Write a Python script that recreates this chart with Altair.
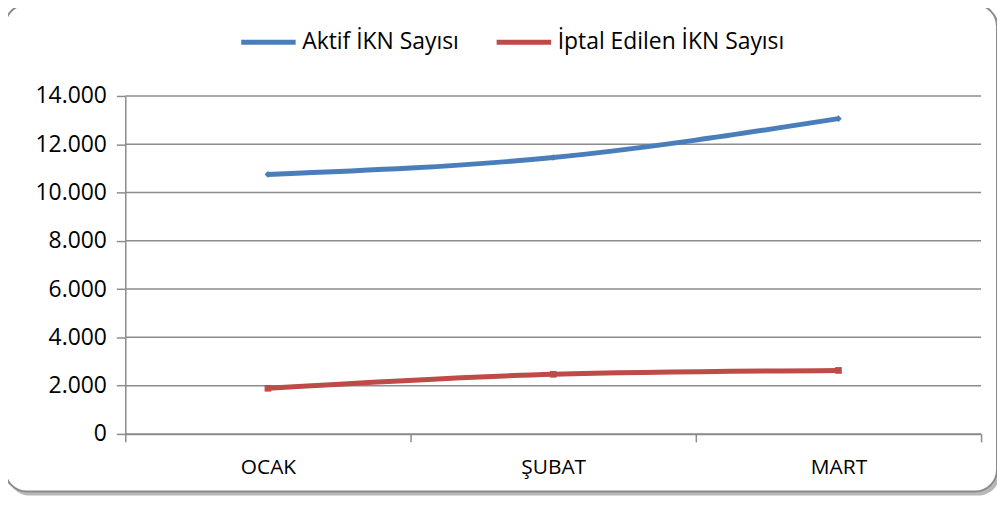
import altair as alt
import pandas as pd

months = ["OCAK", "ŞUBAT", "MART"]
aktif = [10750, 11450, 13060]
iptal = [1890, 2470, 2630]
series_names = ["Aktif İKN Sayısı", "İptal Edilen İKN Sayısı"]
colors = ["#4A7EBB", "#BE4B48"]
shapes = ["diamond", "square"]
y_ticks = [0, 2000, 4000, 6000, 8000, 10000, 12000, 14000]

rows = []
for name, vals in zip(series_names, [aktif, iptal]):
    for m, v in zip(months, vals):
        rows.append({"Ay": m, "Seri": name, "Değer": v})
df = pd.DataFrame(rows)
grid_df = pd.DataFrame({"Değer": y_ticks})

FONT = "Open Sans"
GRID = "#8C8C8C"

x_enc = alt.X(
    "Ay:N", sort=months,
    scale=alt.Scale(type="band", paddingInner=0, paddingOuter=0),
    axis=alt.Axis(title=None, tickBand="extent", labelAngle=0, grid=False,
                  domainColor=GRID, domainWidth=1.5, tickColor=GRID, tickWidth=1.5,
                  tickSize=8, labelPadding=15, labelFontSize=21, labelFont=FONT,
                  labelColor="#000000", zindex=1),
)
y_scale = alt.Scale(domain=[0, 14000], nice=False)
y_enc = alt.Y(
    "Değer:Q", scale=y_scale,
    axis=alt.Axis(title=None, values=y_ticks, grid=False,
                  domainColor=GRID, domainWidth=1.5, tickColor=GRID, tickWidth=1.5,
                  tickSize=9, labelPadding=10, labelFontSize=23, labelFont=FONT,
                  labelColor="#000000", zindex=1,
                  labelExpr="replace(format(datum.value, ','), ',', '.')"),
)
color_enc = alt.Color(
    "Seri:N",
    scale=alt.Scale(domain=series_names, range=colors),
    legend=alt.Legend(orient="none", legendX=114, legendY=-84, direction="horizontal",
                      title=None, symbolType="stroke", symbolSize=3000,
                      symbolStrokeWidth=5, labelFontSize=23, labelFont=FONT,
                      labelColor="#000000", columnPadding=27, labelOffset=4,
                      labelLimit=500),
)

frame_df = pd.DataFrame({"k": [0]})
shadow = alt.Chart(frame_df).mark_rect(
    cornerRadius=22, fill="#B8B8B8"
).encode(x=alt.value(-118), x2=alt.value(880), y=alt.value(-89), y2=alt.value(402))
frame = alt.Chart(frame_df).mark_rect(
    cornerRadius=22, fill="#FFFFFF", stroke="#8A8A8A", strokeWidth=2
).encode(x=alt.value(-121), x2=alt.value(877), y=alt.value(-92), y2=alt.value(398))

gridlines = alt.Chart(grid_df).mark_rule(color=GRID, strokeWidth=1.5).encode(
    y=y_enc, x=alt.value(0), x2=alt.value(861),
)

lines = alt.Chart(df).mark_line(strokeWidth=5, interpolate="monotone").encode(
    x=x_enc, y=y_enc, color=color_enc
)

point_layers = []
for name, col, shp in zip(series_names, colors, shapes):
    point_layers.append(
        alt.Chart(df).transform_filter(alt.datum.Seri == name)
        .mark_point(filled=True, size=45, opacity=1, shape=shp, color=col)
        .encode(x=x_enc, y=y_enc)
    )

chart = alt.layer(shadow, frame, gridlines, lines, *point_layers).properties(
    width=861, height=340, autosize="none",
    padding={"left": 118, "top": 87, "right": 16, "bottom": 65},
).configure_view(stroke=None).configure(background="#FFFFFF")

chart.save("out.html", embed_options={"renderer": "svg", "actions": False})
